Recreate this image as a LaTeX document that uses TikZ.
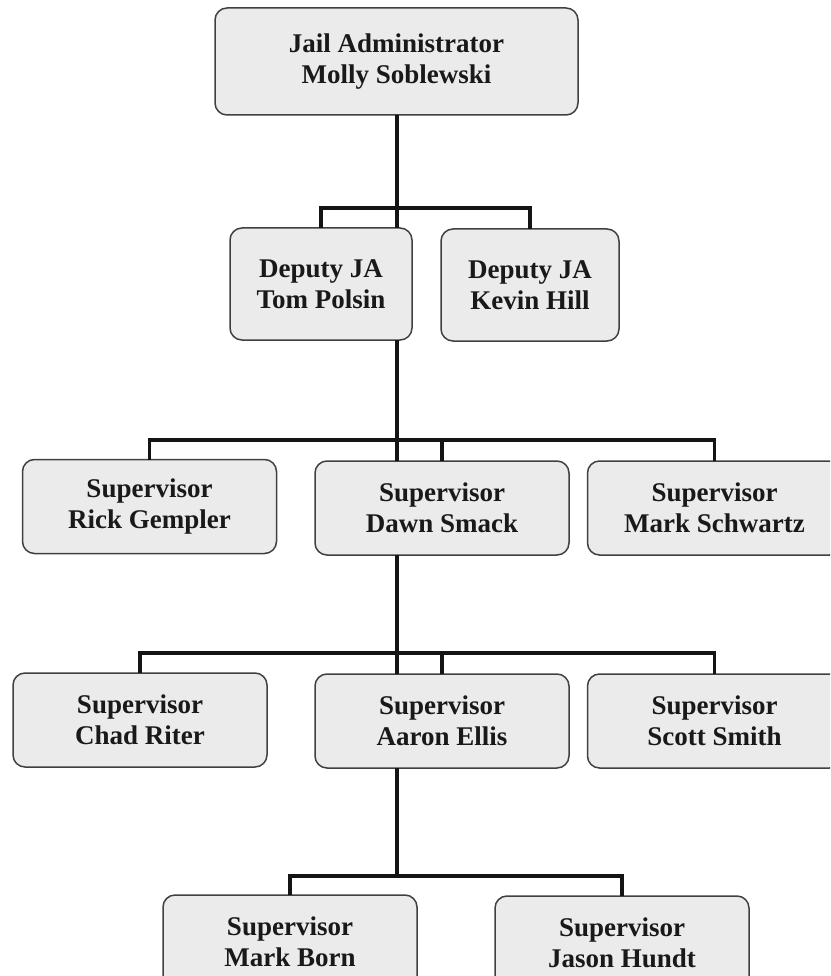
\documentclass[tikz,border=0pt]{standalone}
\usepackage{fontspec}
\setmainfont{Liberation Serif}
\begin{document}
\begin{tikzpicture}[x=1pt,y=-1pt,
  box/.style={draw=black!75, line width=1.5pt, fill=black!8, rounded corners=12pt,
    inner sep=0pt, outer sep=0pt, align=center, text=black!90,
    font=\bfseries\fontsize{27}{31}\selectfont},
  wide/.style={minimum width=254pt, minimum height=94pt},
  link/.style={line width=3.4pt, black!92}]
\useasboundingbox (0,0) rectangle (830,976);
\clip (0,0) rectangle (830,976);
% boxes
\node[box, minimum width=363pt, minimum height=107pt] (admin) at (396.5,61.5) {Jail Administrator\\Molly Soblewski};
\node[box, minimum width=182pt, minimum height=112pt] (tom) at (321,284) {Deputy JA\\Tom Polsin};
\node[box, minimum width=178pt, minimum height=112pt] (kevin) at (530,285) {Deputy JA\\Kevin Hill};
\node[box, wide] (rick) at (149.5,506.5) {Supervisor\\Rick Gempler};
\node[box, wide] (dawn) at (442,508) {Supervisor\\Dawn Smack};
\node[box, wide] (marks) at (714.5,508) {Supervisor\\Mark Schwartz};
\node[box, wide] (chad) at (140,720) {Supervisor\\Chad Riter};
\node[box, wide] (aaron) at (442,721) {Supervisor\\Aaron Ellis};
\node[box, wide] (scott) at (714.5,721) {Supervisor\\Scott Smith};
\node[box, wide] (markb) at (290,942) {Supervisor\\Mark Born};
\node[box, wide] (jason) at (622,943) {Supervisor\\Jason Hundt};
% helper coordinates
\coordinate (trunk) at (397,0);
\coordinate (b1) at (0,208);
\coordinate (b2) at (0,440);
\coordinate (b3) at (0,653);
\coordinate (b4) at (0,876);
% level 1
\draw[link] (trunk |- admin.south) -- (trunk |- tom.north);
\draw[link] (tom.north) -- (tom.north |- b1) -- (kevin.north |- b1) -- (kevin.north);
% level 2
\draw[link] (trunk |- tom.south) -- (trunk |- dawn.north);
\draw[link] (rick.north) -- (rick.north |- b2) -- (marks.north |- b2) -- (marks.north);
\draw[link] (dawn.north |- b2) -- (dawn.north);
% level 3
\draw[link] (trunk |- dawn.south) -- (trunk |- aaron.north);
\draw[link] (chad.north) -- (chad.north |- b3) -- (scott.north |- b3) -- (scott.north);
\draw[link] (aaron.north |- b3) -- (aaron.north);
% level 4
\draw[link] (trunk |- aaron.south) -- (trunk |- b4);
\draw[link] (markb.north) -- (markb.north |- b4) -- (jason.north |- b4) -- (jason.north);
\end{tikzpicture}
\end{document}
